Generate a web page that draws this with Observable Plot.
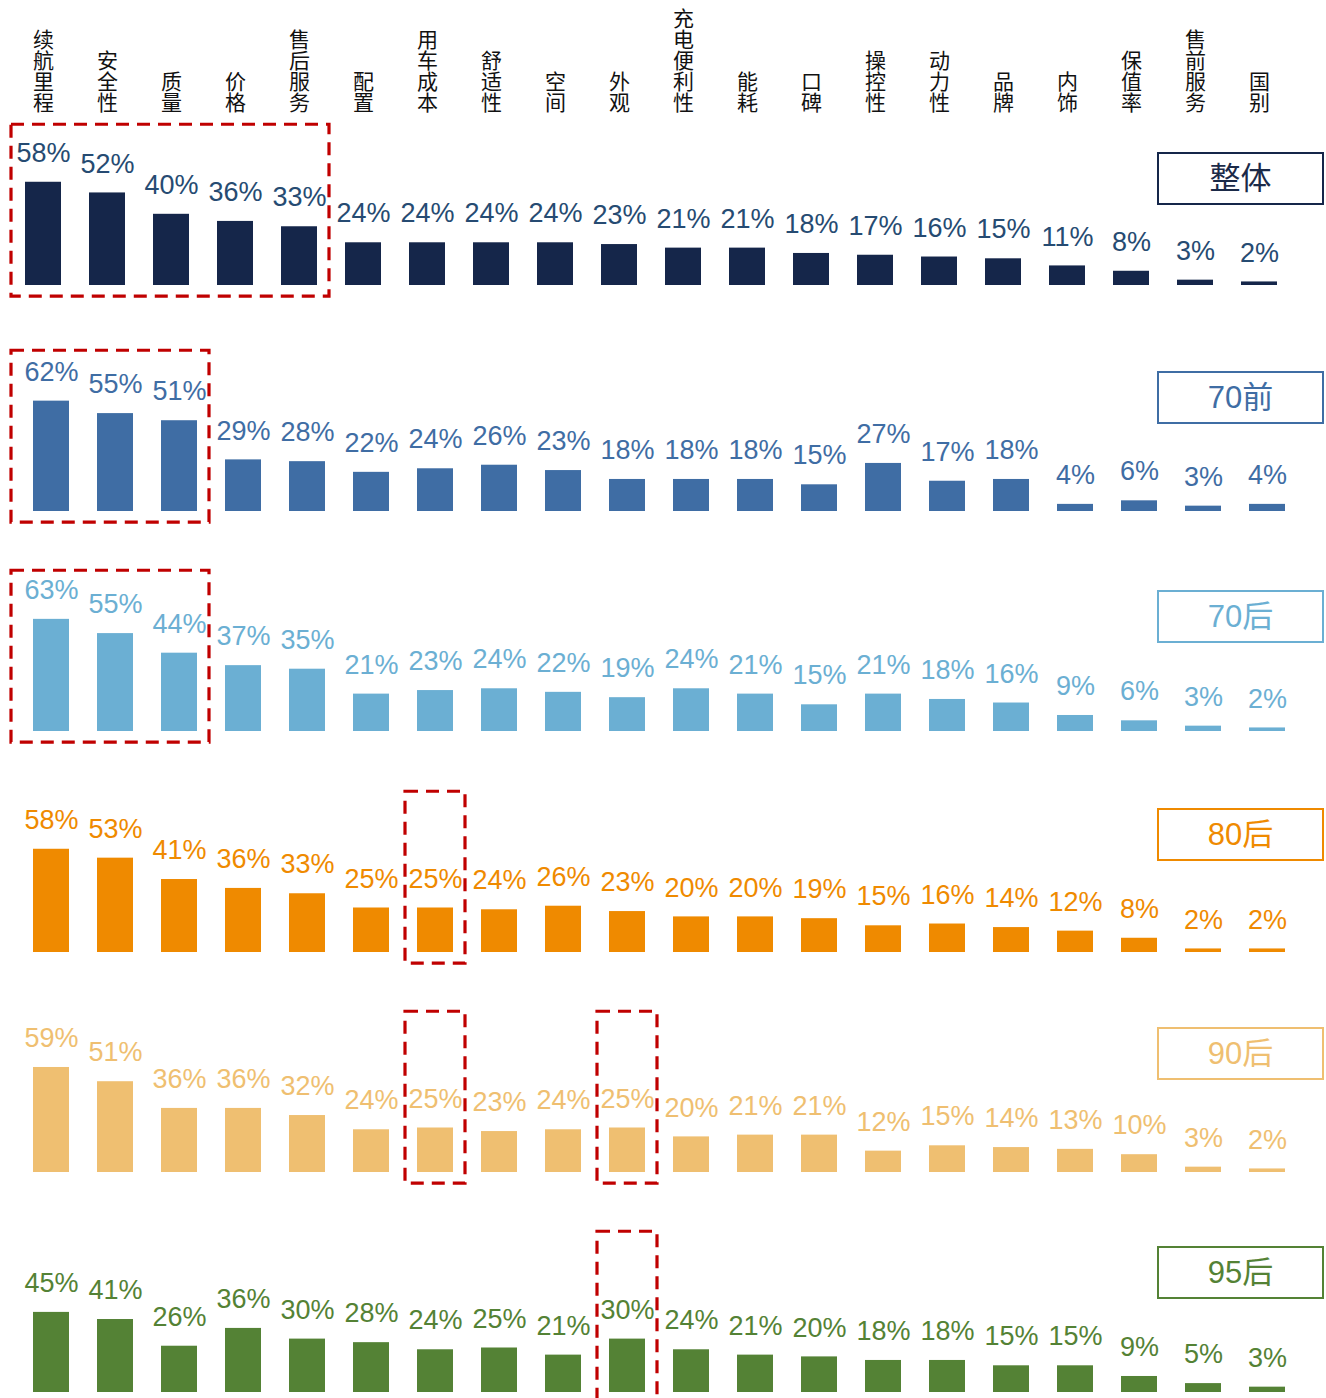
<!DOCTYPE html>
<html>
<head>
<meta charset="utf-8">
<script src="https://cdn.jsdelivr.net/npm/d3@7"></script>
<script src="https://cdn.jsdelivr.net/npm/@observablehq/plot@0.6"></script>
<style>
  body { margin: 0; background: #fff; }
  #chart { position: relative; width: 1326px; height: 1398px; overflow: hidden; background: #fff; }
  #chart svg { position: absolute; left: 0; }
</style>
</head>
<body>
<div id="chart"></div>
<script>
// ---------- data ----------
const categories = ["续航里程","安全性","质量","价格","售后服务","配置","用车成本","舒适性","空间","外观",
                    "充电便利性","能耗","口碑","操控性","动力性","品牌","内饰","保值率","售前服务","国别"];
const groups = ["整体","70前","70后","80后","90后","95后"];
const overall = [58,52,40,36,33,24,24,24,24,23,21,21,18,17,16,15,11,8,3,2];
const pre70   = [62,55,51,29,28,22,24,26,23,18,18,18,15,27,17,18,4,6,3,4];
const post70  = [63,55,44,37,35,21,23,24,22,19,24,21,15,21,18,16,9,6,3,2];
const post80  = [58,53,41,36,33,25,25,24,26,23,20,20,19,15,16,14,12,8,2,2];
const post90  = [59,51,36,36,32,24,25,23,24,25,20,21,21,12,15,14,13,10,3,2];
const post95  = [45,41,26,36,30,28,24,25,21,30,24,21,20,18,18,15,15,9,5,3];
const seriesValues = [overall, pre70, post70, post80, post90, post95];
const highlights = [
  {group: "整体", from: "续航里程", to: "售后服务"},
  {group: "70前", from: "续航里程", to: "质量"},
  {group: "70后", from: "续航里程", to: "质量"},
  {group: "80后", from: "用车成本", to: "用车成本"},
  {group: "90后", from: "用车成本", to: "用车成本"},
  {group: "90后", from: "外观", to: "外观"},
  {group: "95后", from: "外观", to: "外观"}
];

// ---------- style / layout ----------
const barColors   = ["#15264A", "#3F6DA4", "#6BAFD3", "#EF8A00", "#EFBF71", "#548235"];
const labelColors = ["#264B72", "#3F6DA4", "#6BAFD3", "#EF8A00", "#EFBF71", "#548235"];
const legendText  = ["#1B2A48", "#3F6DA4", "#6BAFD3", "#EF8A00", "#EFBF71", "#548235"];
const W = 1326;
const rowTop = [115, 341, 561, 782, 1002, 1222];
const rowMarginLeft = [23, 32, 32, 32, 32, 32];
const rowMarginRight = [48, 41, 41, 41, 41, 41];
const legendAbove = [132, 139, 140, 143, 144, 145];
const ABOVE = 170, BELOW = 14, PX_PER_PCT = 1.78;
const LATIN = "'Liberation Sans', Arial, 'Noto Sans CJK SC', sans-serif";
const CJK = "'Noto Sans CJK SC', 'Liberation Sans', sans-serif";
const RED = "#C00000";

const chart = document.getElementById("chart");

// header with vertical category labels
const header = Plot.plot({
  width: W, height: 128,
  marginTop: 0, marginBottom: 19, marginLeft: 23, marginRight: 48,
  style: {background: "transparent", overflow: "visible"},
  x: {type: "band", domain: categories, paddingInner: 0.44, paddingOuter: 0, axis: null},
  marks: [
    Plot.text(categories, {
      x: d => d,
      text: d => Array.from(d).join("\n"),
      frameAnchor: "bottom",
      lineAnchor: "bottom",
      lineHeight: 1,
      fontSize: 21,
      fontFamily: CJK,
      fill: "#111"
    })
  ]
});
header.style.top = "0px";
chart.appendChild(header);

groups.forEach((g, i) => {
  const data = categories.map((c, j) => ({cat: c, value: seriesValues[i][j]}));
  const plot = Plot.plot({
    width: W, height: ABOVE + BELOW,
    marginTop: 0, marginBottom: BELOW,
    marginLeft: rowMarginLeft[i], marginRight: rowMarginRight[i],
    style: {background: "transparent", overflow: "visible"},
    x: {type: "band", domain: categories, paddingInner: 0.44, paddingOuter: 0, axis: null},
    y: {domain: [0, ABOVE / PX_PER_PCT], axis: null},
    marks: [
      Plot.barY(data, {x: "cat", y: "value", fill: barColors[i]}),
      Plot.text(data, {
        x: "cat", y: "value", text: d => d.value + "%",
        dy: -29, fontSize: 27, fontFamily: LATIN, fill: labelColors[i]
      })
    ]
  });
  plot.style.top = rowTop[i] + "px";
  chart.appendChild(plot);

  const xs = plot.scale("x"), ys = plot.scale("y");
  const svg = d3.select(plot);
  const base = ys.apply(0);

  // red dashed highlight boxes
  highlights.filter(h => h.group === g).forEach(h => {
    const half = xs.step / 2 - 2;
    const c1 = xs.apply(h.from) + xs.bandwidth / 2;
    const c2 = xs.apply(h.to) + xs.bandwidth / 2;
    const left = categories.indexOf(h.from) === 0 ? 11 : c1 - half;
    const right = c2 + half;
    const top = ys.apply(90.3);
    const bottom = ys.apply(-6.2);
    svg.append("rect")
      .attr("x", left).attr("y", top)
      .attr("width", right - left).attr("height", bottom - top)
      .attr("fill", "none").attr("stroke", RED)
      .attr("stroke-width", 3.2)
      .attr("stroke-dasharray", "13,8");
  });

  // legend box
  const lx = 1158, lw = 165, lh = 51;
  const ly = base - legendAbove[i];
  svg.append("rect")
    .attr("x", lx).attr("y", ly).attr("width", lw).attr("height", lh)
    .attr("fill", "#fff").attr("stroke", barColors[i]).attr("stroke-width", 2);
  svg.append("text")
    .attr("x", lx + lw / 2).attr("y", ly + lh / 2)
    .attr("text-anchor", "middle").attr("dominant-baseline", "central")
    .attr("font-family", LATIN).attr("font-size", 31)
    .attr("fill", legendText[i])
    .text(g);
});
</script>
</body>
</html>
